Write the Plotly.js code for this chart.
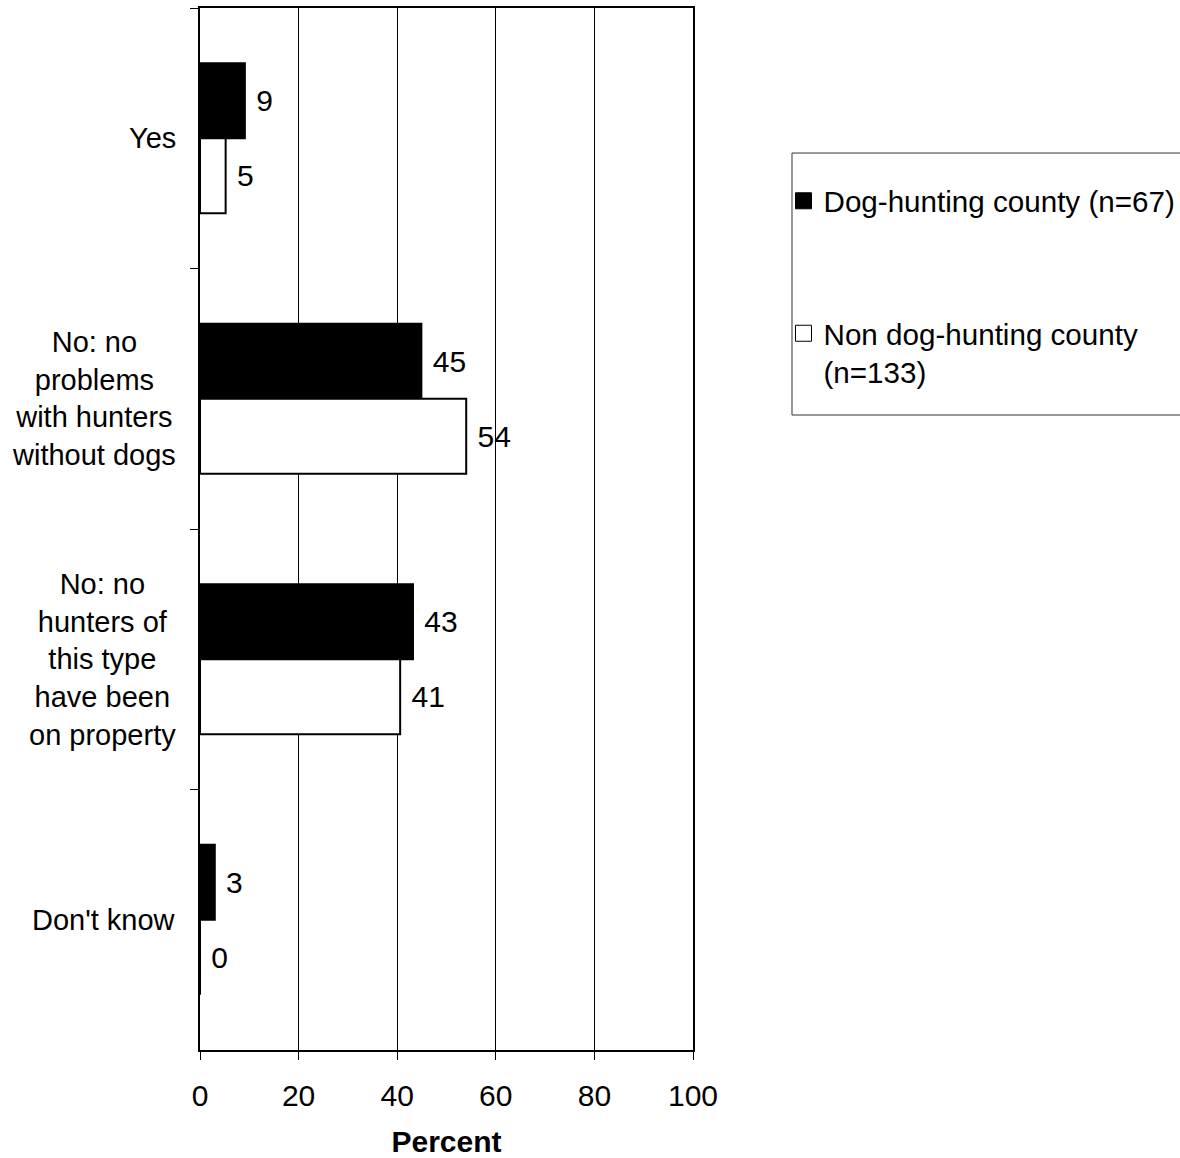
<!DOCTYPE html>
<html>
<head>
<meta charset="utf-8">
<script src="https://cdn.plot.ly/plotly-3.0.1.min.js"></script>
<style>
  html, body { margin: 0; padding: 0; background: #ffffff; }
  #chart { width: 1180px; height: 1158px; }
</style>
</head>
<body>
<div id="chart"></div>
<script>
// ---- data ----
const categories = [
  "Yes",
  "No: no problems with hunters without dogs",
  "No: no hunters of this type have been on property",
  "Don't know"
];
const categoryLabels = [
  "Yes",
  "No: no<br>problems<br>with hunters<br>without dogs",
  "No: no<br>hunters of<br>this type<br>have been<br>on property",
  "Don't know"
];
const seriesNames = ["Dog-hunting county (n=67)", "Non dog-hunting county<br>(n=133)"];
const seriesColors = ["#000000", "#ffffff"];
const dogHunting = [9.1, 44.9, 43.2, 3.0];
const nonDogHunting = [5.2, 54.0, 40.6, 0.0];
const dogLabels = ["9", "45", "43", "3"];
const nonDogLabels = ["5", "54", "41", "0"];
const xTicks = [0, 20, 40, 60, 80, 100];

const FONT = "Liberation Sans, Arial, sans-serif";
const FS = 30;
const NB = "\u00a0";

const seriesValues = [dogHunting, nonDogHunting];
const seriesLabels = [dogLabels, nonDogLabels];

const traces = [];
seriesValues.forEach((vals, k) => {
  traces.push({
    type: "bar", orientation: "h",
    name: seriesNames[k], showlegend: false,
    y: categories, x: vals,
    text: seriesLabels[k].map(t => NB + t), textposition: "outside", cliponaxis: false,
    constraintext: "none",
    textfont: { family: FONT, size: FS, color: "#000" },
    marker: { color: seriesColors[k], line: { color: "#000000", width: 2 } },
    hoverinfo: "skip"
  });
});
// legend entries (square swatches like the original)
seriesNames.forEach((n, k) => {
  traces.push({
    type: "scatter", mode: "markers",
    name: n, legendgroup: "g" + k, showlegend: true,
    x: [null], y: [null],
    marker: { symbol: "square", size: 16, color: seriesColors[k], line: { color: "#000", width: 1 } },
    hoverinfo: "skip"
  });
});

const annotations = categories.map((c, i) => ({
  xref: "paper", yref: "y", x: 0, y: c,
  xanchor: "right", yanchor: "middle", xshift: -22,
  text: categoryLabels[i], showarrow: false, align: "center",
  font: { family: FONT, size: 29, color: "#000" }
}));

const layout = {
  width: 1180, height: 1158,
  paper_bgcolor: "#ffffff", plot_bgcolor: "#ffffff",
  margin: { l: 200, r: 487, t: 8, b: 108, pad: 0, autoexpand: false },
  font: { family: FONT, size: FS, color: "#000" },
  barmode: "group", bargap: 0.424, bargroupgap: 0,
  showlegend: true,
  legend: {
    x: 1.1836, xanchor: "left", y: 0.8397, yanchor: "top",
    bgcolor: "rgba(0,0,0,0)", borderwidth: 0,
    traceorder: "grouped", tracegroupgap: 91, valign: "top",
    font: { family: FONT, size: 29.6, color: "#000" }
  },
  xaxis: {
    range: [0, 100], tickvals: xTicks, ticktext: xTicks.map(String),
    showgrid: true, gridcolor: "#000000", gridwidth: 1,
    zeroline: false,
    showline: true, linecolor: "#000000", linewidth: 2, mirror: true,
    ticks: "outside", ticklen: 8, tickwidth: 1, tickcolor: "#000",
    ticklabelstandoff: 10,
    tickfont: { family: FONT, size: FS, color: "#000" },
    title: { text: "Percent", standoff: 26, font: { family: FONT, size: FS, color: "#000", weight: "bold" } },
    fixedrange: true
  },
  yaxis: {
    type: "category", categoryorder: "array", categoryarray: categories,
    autorange: "reversed",
    showticklabels: false, showgrid: false, zeroline: false,
    showline: true, linecolor: "#000000", linewidth: 2, mirror: true,
    ticks: "outside", tickson: "boundaries", ticklen: 8, tickwidth: 1, tickcolor: "#000",
    fixedrange: true
  },
  annotations: annotations,
  shapes: [{
    type: "rect", xref: "paper", yref: "paper",
    x0: 1.2008, x1: 2.2, y0: 0.6094, y1: 0.8608,
    line: { color: "#333333", width: 1 }, fillcolor: "rgba(0,0,0,0)"
  }]
};

Plotly.newPlot("chart", traces, layout, { displayModeBar: false, staticPlot: true });
</script>
</body>
</html>
